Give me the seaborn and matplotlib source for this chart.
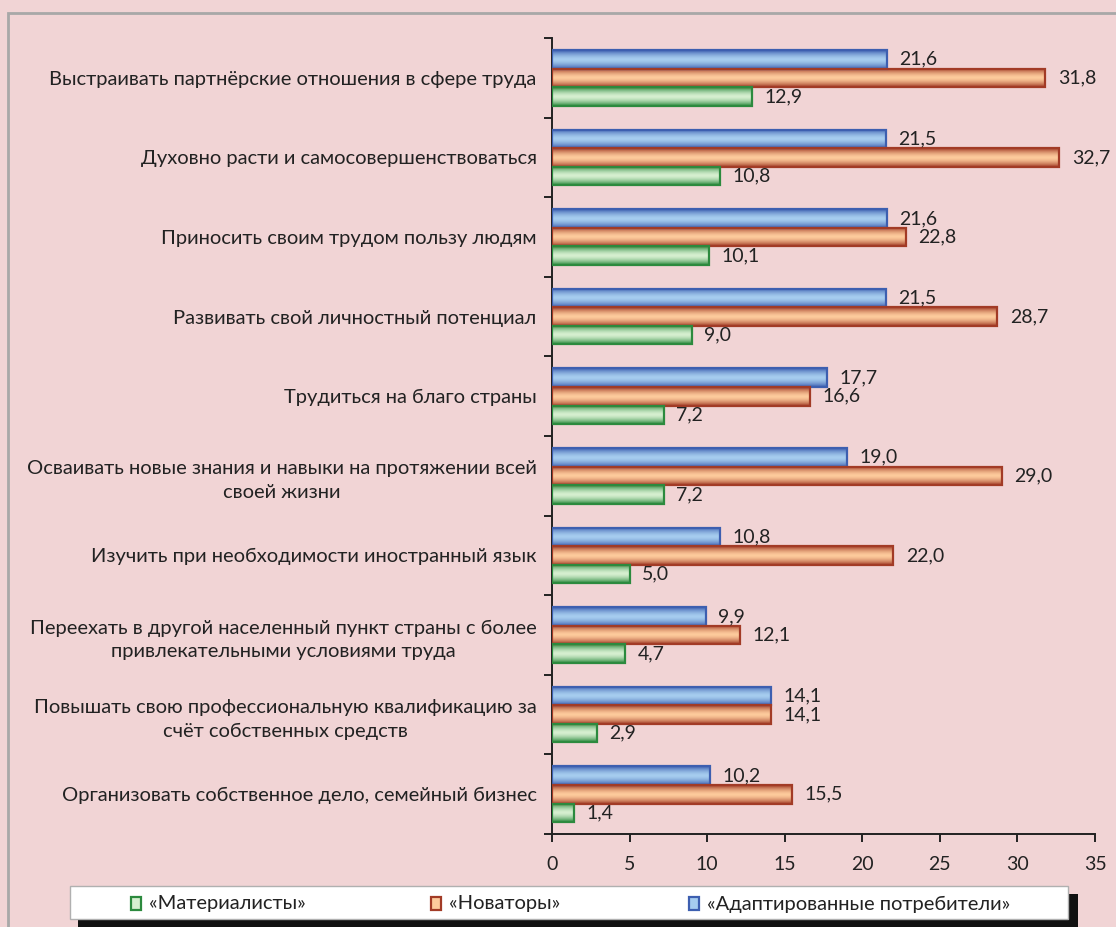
import numpy as np
import pandas as pd
import matplotlib
matplotlib.use('Agg')
import matplotlib.pyplot as plt
from matplotlib.colors import LinearSegmentedColormap
from matplotlib.patches import Rectangle
import seaborn as sns

# Данные
categories = [
    'Выстраивать партнёрские отношения в сфере труда',
    'Духовно расти и самосовершенствоваться',
    'Приносить своим трудом пользу людям',
    'Развивать свой личностный потенциал',
    'Трудиться на благо страны',
    'Осваивать новые знания и навыки на протяжении всей\nсвоей жизни',
    'Изучить при необходимости иностранный язык',
    'Переехать в другой населенный пункт страны с более\nпривлекательными условиями труда',
    'Повышать свою профессиональную квалификацию за\nсчёт собственных средств',
    'Организовать собственное дело, семейный бизнес',
]
materialists = [12.9, 10.8, 10.1, 9.0, 7.2, 7.2, 5.0, 4.7, 2.9, 1.4]
innovators = [31.8, 32.7, 22.8, 28.7, 16.6, 29.0, 22.0, 12.1, 14.1, 15.5]
adapted = [21.6, 21.5, 21.6, 21.5, 17.7, 19.0, 10.8, 9.9, 14.1, 10.2]

series = ['«Адаптированные потребители»', '«Новаторы»', '«Материалисты»']
values = [adapted, innovators, materialists]

rows = []
for s, v in zip(series, values):
    for c, x in zip(categories, v):
        rows.append({'Категория': c, 'Группа': s, 'Значение': x})
df = pd.DataFrame(rows)

# цвета: край, центр
edge = {series[0]: '#3d5fb0', series[1]: '#a23b26', series[2]: '#2c8a3e'}
light = {series[0]: '#a6cdef', series[1]: '#fdcb9c', series[2]: '#d6efd0'}

bg = '#f1d4d5'
sns.set_theme(style='white')
plt.rcParams['font.family'] = ['Lato', 'DejaVu Sans']

fig = plt.figure(figsize=(11.16, 9.27), dpi=100, facecolor=bg)
ax = fig.add_axes([0.4946, 0.1003, 0.4866, 0.8587])
ax.set_facecolor(bg)

sns.barplot(data=df, y='Категория', x='Значение', hue='Группа', hue_order=series,
            order=categories, orient='h', width=0.7, ax=ax, legend=False,
            palette=[light[s] for s in series])

# градиентная заливка столбиков
grad = np.abs(np.linspace(-1, 1, 64)) ** 1.6
for cont, s in zip(ax.containers, series):
    cmap = LinearSegmentedColormap.from_list(s, [light[s], edge[s]])
    for p in cont:
        x0, y0 = p.get_x(), p.get_y()
        w, h = p.get_width(), p.get_height()
        ax.imshow(grad.reshape(-1, 1), cmap=cmap, aspect='auto', vmin=0, vmax=1,
                  extent=(x0, x0 + w, y0 + h, y0), zorder=2, interpolation='bilinear')
        p.set_facecolor('none')
        p.set_edgecolor(edge[s])
        p.set_linewidth(1.6)
        p.set_zorder(3)
    ax.bar_label(cont, labels=[f'{v:.1f}'.replace('.', ',') for v in cont.datavalues],
                 padding=9, fontsize=14, color='#222222')

ax.set_xlim(0, 35)
ax.set_ylim(len(categories) - 0.5, -0.5)
ax.set_xticks(range(0, 36, 5))
ax.set_xlabel('')
ax.set_ylabel('')
ax.set_yticks(np.arange(-0.5, len(categories), 1), minor=True)
ax.tick_params(axis='y', which='major', length=0, pad=11, labelsize=14.5, labelcolor='#222222')
ax.tick_params(axis='y', which='minor', length=6, width=1.4, color='#222222', direction='out', left=True)
ax.tick_params(axis='x', length=6, width=1.4, color='#222222', direction='out', bottom=True,
               pad=10, labelsize=14, labelcolor='#222222')
for lab in ax.get_yticklabels():
    lab.set_multialignment('center')
    lab.set_linespacing(1.45)
for sp in ['top', 'right']:
    ax.spines[sp].set_visible(False)
for sp in ['left', 'bottom']:
    ax.spines[sp].set_color('#222222')
    ax.spines[sp].set_linewidth(1.4)

# рамка
fig.patches.append(Rectangle((8 / 1116, -0.1), 1.1, 1 - 13 / 927 + 0.1, transform=fig.transFigure,
                             fill=False, edgecolor='#a8a8a8', linewidth=2, zorder=0))

# легенда
W, H = 1116, 927
fig.patches.append(Rectangle((78 / W, 0), 1000 / W, (927 - 894) / H, transform=fig.transFigure,
                             facecolor='#111111', edgecolor='none', zorder=1))
fig.patches.append(Rectangle((70 / W, (927 - 919) / H), 998 / W, 33 / H, transform=fig.transFigure,
                             facecolor='white', edgecolor='#b0b0b0', linewidth=1, zorder=2))
leg_items = [(series[2], 131), (series[1], 431), (series[0], 689)]
ly = (927 - 904) / H
for s, xpx in leg_items:
    fig.patches.append(Rectangle((xpx / W, ly - 6 / H), 10 / W, 13 / H, transform=fig.transFigure,
                                 facecolor=light[s], edgecolor=edge[s], linewidth=1.6, zorder=3))
    fig.text((xpx + 18) / W, ly, s, fontsize=14.5, color='#222222', va='center', ha='left', zorder=4)

fig.savefig('out.png', dpi=100, facecolor=bg)
